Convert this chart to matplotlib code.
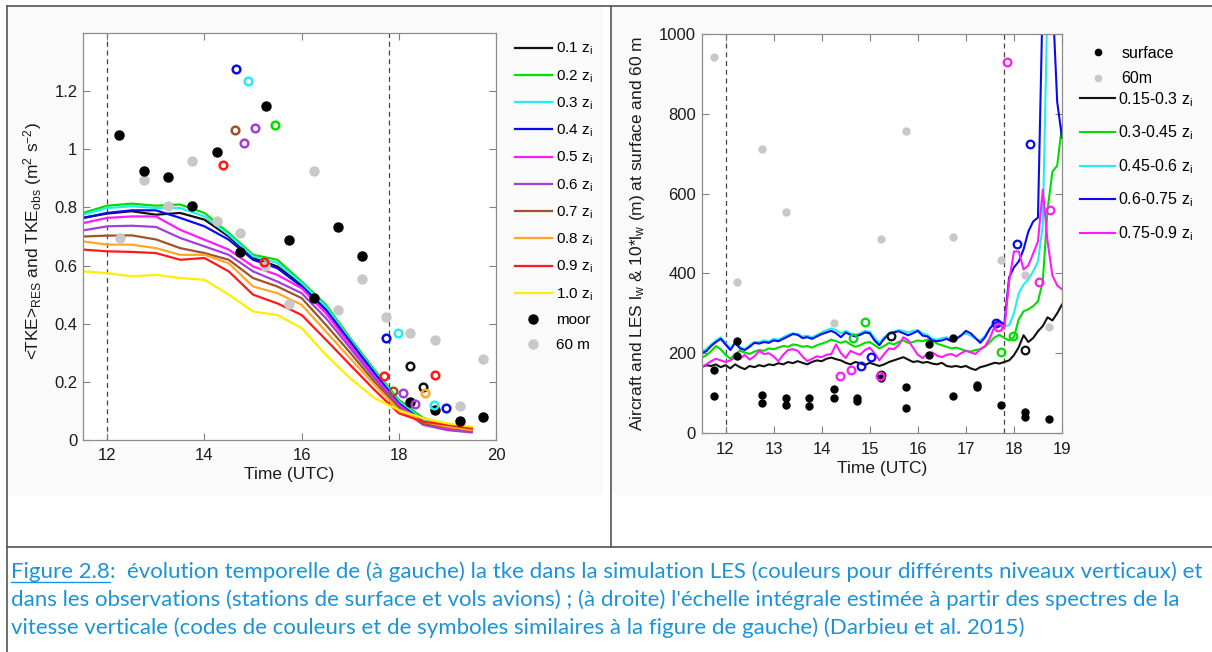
import numpy as np
import matplotlib.pyplot as plt
from matplotlib.lines import Line2D
from matplotlib.patches import Rectangle

plt.rcParams['font.family'] = ['Liberation Sans', 'DejaVu Sans']
plt.rcParams['mathtext.fontset'] = 'custom'
plt.rcParams['mathtext.rm'] = 'Liberation Sans'
plt.rcParams['mathtext.it'] = 'Liberation Sans:italic'

# ---------------- left panel : TKE ----------------
t_les = [11.5, 12.0, 12.5, 13.0, 13.5, 14.0, 14.5, 15.0, 15.5, 16.0,
         16.5, 17.0, 17.5, 18.0, 18.5, 19.0, 19.5]
tke_01 = [0.764, 0.779, 0.787, 0.775, 0.781, 0.758, 0.700, 0.626, 0.597, 0.534, 0.448, 0.333, 0.230, 0.132, 0.075, 0.052, 0.040]
tke_02 = [0.781, 0.806, 0.813, 0.806, 0.810, 0.781, 0.712, 0.637, 0.620, 0.545, 0.465, 0.350, 0.241, 0.138, 0.075, 0.052, 0.040]
tke_03 = [0.775, 0.798, 0.804, 0.798, 0.798, 0.769, 0.706, 0.632, 0.609, 0.540, 0.459, 0.345, 0.235, 0.132, 0.069, 0.046, 0.034]
tke_04 = [0.764, 0.781, 0.790, 0.790, 0.764, 0.735, 0.689, 0.620, 0.591, 0.528, 0.448, 0.339, 0.230, 0.126, 0.063, 0.040, 0.032]
tke_05 = [0.746, 0.764, 0.769, 0.769, 0.723, 0.689, 0.655, 0.597, 0.568, 0.522, 0.436, 0.327, 0.218, 0.121, 0.057, 0.040, 0.029]
tke_06 = [0.721, 0.735, 0.737, 0.733, 0.695, 0.666, 0.637, 0.580, 0.545, 0.505, 0.419, 0.316, 0.212, 0.115, 0.052, 0.034, 0.026]
tke_07 = [0.700, 0.703, 0.704, 0.690, 0.660, 0.643, 0.620, 0.557, 0.528, 0.488, 0.396, 0.300, 0.200, 0.109, 0.057, 0.044, 0.032]
tke_08 = [0.683, 0.672, 0.672, 0.660, 0.637, 0.637, 0.608, 0.528, 0.505, 0.465, 0.373, 0.281, 0.190, 0.103, 0.063, 0.046, 0.034]
tke_09 = [0.655, 0.649, 0.647, 0.643, 0.620, 0.626, 0.580, 0.500, 0.470, 0.430, 0.345, 0.258, 0.172, 0.092, 0.063, 0.052, 0.040]
tke_10 = [0.580, 0.574, 0.563, 0.568, 0.557, 0.551, 0.500, 0.442, 0.430, 0.385, 0.293, 0.212, 0.144, 0.103, 0.075, 0.057, 0.046]
tke_all = [tke_01, tke_02, tke_03, tke_04, tke_05, tke_06, tke_07, tke_08, tke_09, tke_10]
lvl_names = ['0.1', '0.2', '0.3', '0.4', '0.5', '0.6', '0.7', '0.8', '0.9', '1.0']
lvl_colors = ['#111111', '#00dd00', '#22eeee', '#0a0aee', '#ff1aff',
              '#a040d8', '#a0522d', '#ffa726', '#ff1a1a', '#ffee00']

moor_t = [12.24, 12.75, 13.25, 13.75, 14.25, 14.74, 15.26, 15.75, 16.25, 16.74, 17.24, 18.22, 18.75, 19.25, 19.74]
moor_v = [1.048, 0.924, 0.905, 0.804, 0.990, 0.645, 1.148, 0.689, 0.490, 0.731, 0.632, 0.130, 0.103, 0.067, 0.080]
m60_t = [12.26, 12.75, 13.25, 13.75, 14.25, 14.74, 15.24, 15.75, 16.25, 16.74, 17.24, 17.74, 18.24, 18.75, 19.25, 19.74]
m60_v = [0.695, 0.896, 0.804, 0.959, 0.752, 0.712, 0.597, 0.469, 0.924, 0.448, 0.553, 0.423, 0.367, 0.345, 0.117, 0.279]

# aircraft legs (index into lvl_colors)
air_lvl = [0, 0, 1, 2, 2, 2, 3, 3, 3, 5, 5, 5, 5, 6, 6, 7, 8, 8, 8, 8]
air_t = [18.22, 18.50, 15.46, 14.89, 17.98, 18.72, 14.65, 17.74, 18.97, 14.82, 15.03, 18.09, 18.34,
         14.63, 17.88, 18.53, 14.38, 15.22, 17.69, 18.75]
air_v = [0.256, 0.184, 1.085, 1.234, 0.367, 0.120, 1.277, 0.350, 0.109, 1.020, 1.073, 0.161, 0.123,
         1.065, 0.170, 0.163, 0.946, 0.612, 0.220, 0.224]

# ---------------- right panel : integral scale ----------------
t_lw = np.round(np.arange(11.5, 19.01, 0.1), 1)  # LES output every 6 min
lw_1 = [165, 170, 168, 172, 165, 170, 162, 172, 165, 160,
        168, 165, 170, 167, 172, 170, 175, 172, 178, 175,
        180, 176, 172, 178, 182, 180, 186, 189, 185, 182,
        176, 172, 178, 175, 170, 176, 172, 168, 172, 178,
        182, 186, 190, 184, 178, 180, 176, 178, 174, 172,
        176, 168, 166, 168, 165, 168, 162, 158, 165, 168,
        172, 176, 174, 178, 182, 195, 215, 245, 228, 238,
        255, 268, 290, 282, 300, 322]
lw_2 = [188, 195, 205, 218, 210, 196, 186, 198, 206, 202,
        198, 204, 208, 206, 212, 210, 214, 218, 216, 222,
        220, 216, 218, 214, 220, 224, 228, 234, 230, 226,
        230, 222, 216, 220, 226, 228, 220, 212, 218, 226,
        222, 228, 232, 226, 228, 232, 230, 234, 232, 224,
        220, 216, 212, 214, 210, 206, 204, 208, 210, 216,
        228, 240, 246, 238, 232, 240, 285, 305, 310, 318,
        330, 380, 560, 655, 670, 770]
lw_3 = [205, 210, 222, 232, 240, 226, 212, 228, 216, 210,
        220, 228, 228, 232, 230, 236, 234, 240, 246, 250,
        248, 242, 244, 240, 246, 252, 258, 262, 258, 250,
        256, 250, 246, 250, 256, 254, 238, 226, 240, 250,
        254, 258, 256, 252, 256, 258, 250, 246, 236, 234,
        238, 240, 234, 238, 246, 250, 244, 236, 232, 244,
        262, 274, 276, 268, 270, 300, 350, 372, 385, 405,
        430, 520, 1100, 1100, 1100, 1100]
lw_4 = [200, 205, 218, 228, 236, 222, 208, 226, 212, 208,
        216, 226, 224, 228, 226, 232, 230, 236, 242, 248,
        246, 238, 240, 236, 242, 248, 252, 256, 250, 240,
        252, 246, 242, 246, 252, 250, 232, 220, 236, 248,
        252, 255, 250, 245, 250, 256, 244, 242, 232, 230,
        232, 236, 230, 236, 244, 256, 250, 238, 226, 240,
        262, 276, 280, 272, 390, 415, 430, 460, 505, 530,
        540, 1100, 1100, 1100, 830, 740]
lw_5 = [165, 172, 180, 186, 182, 178, 182, 190, 186, 196,
        184, 192, 206, 198, 200, 192, 180, 196, 208, 210,
        206, 192, 180, 186, 192, 190, 196, 198, 222, 200,
        188, 206, 200, 196, 208, 214, 200, 182, 198, 212,
        210, 220, 240, 232, 214, 196, 188, 198, 202, 194,
        190, 196, 198, 192, 200, 206, 202, 198, 210, 218,
        238, 268, 272, 262, 380, 455, 455, 410, 420, 450,
        480, 610, 480, 395, 370, 360]
lw_all = [lw_1, lw_2, lw_3, lw_4, lw_5]
band_names = ['0.15-0.3', '0.3-0.45', '0.45-0.6', '0.6-0.75', '0.75-0.9']
band_colors = ['#111111', '#00dd00', '#22eeee', '#0a0aee', '#ff1aff']

sfc_t = [11.76, 11.76, 12.24, 12.24, 12.75, 12.75, 13.25, 13.25, 13.74, 13.74, 14.25, 14.25, 14.74, 14.74,
         15.24, 15.75, 15.75, 16.24, 16.24, 16.74, 16.74, 17.24, 17.24, 17.74, 18.23, 18.23, 18.73]
sfc_v = [159, 92, 230, 192, 94, 75, 88, 71, 88, 67, 110, 88, 88, 79,
         138, 115, 63, 223, 195, 238, 92, 121, 115, 69, 52, 39, 35]
g60_t = [11.76, 12.24, 12.75, 13.25, 14.25, 15.24, 15.75, 16.74, 17.74, 18.23, 18.73]
g60_v = [942, 378, 713, 553, 276, 486, 758, 491, 434, 397, 265]

air2_lvl = [0, 0, 0, 1, 1, 1, 1, 3, 3, 3, 3, 3, 4, 4, 4, 4, 4, 4, 4]
air2_t = [15.45, 18.22, 15.24, 14.65, 14.90, 17.74, 17.99, 14.82, 15.02, 17.62, 18.07, 18.33,
          14.38, 14.61, 15.21, 17.66, 17.86, 18.53, 18.75]
air2_v = [242, 209, 146, 238, 277, 202, 242, 169, 190, 275, 474, 725,
          144, 159, 144, 265, 931, 378, 558]

caption = [
    "évolution temporelle de (à gauche) la tke dans la simulation LES (couleurs pour différents niveaux verticaux) et",
    "dans les observations (stations de surface et vols avions) ; (à droite) l'échelle intégrale estimée à partir des spectres de la",
    "vitesse verticale (codes de couleurs et de symboles similaires à la figure de gauche) (Darbieu et al. 2015)",
]

W, H = 1212, 652
fig = plt.figure(figsize=(W / 100, H / 100), dpi=100)


def fx(px):
    return px / W


def fy(py):
    return 1 - py / H


# screenshot backgrounds and table frame
for x0, x1 in [(8, 603), (612, 1212)]:
    fig.patches.append(Rectangle((fx(x0), fy(495)), fx(x1 - x0), (495 - 7) / H,
                                 transform=fig.transFigure, facecolor='#fafafa',
                                 edgecolor='none', zorder=-5))
frame = dict(transform=fig.transFigure, color='#555555', lw=1.2)
fig.add_artist(Line2D([fx(7), 1], [fy(6), fy(6)], **frame))
fig.add_artist(Line2D([fx(7), fx(7)], [fy(6), 0], **frame))
fig.add_artist(Line2D([fx(611), fx(611)], [fy(6), fy(547)], **frame))
fig.add_artist(Line2D([fx(7), 1], [fy(547), fy(547)], **frame))


def style(ax, pad_x, pad_y):
    ax.set_facecolor('white')
    ax.tick_params(direction='in', top=True, right=True, length=5, width=0.8,
                   color='#808080', labelsize=12, labelcolor='#1a1a1a')
    ax.tick_params(axis='x', pad=pad_x)
    ax.tick_params(axis='y', pad=pad_y)
    for s in ax.spines.values():
        s.set_color('#8c8c8c')
        s.set_linewidth(0.9)


# ---- left axes
ax1 = fig.add_axes([fx(83), fy(440), 413 / W, 407 / H])
style(ax1, 6, 4)
handles = []
for vals, col, nm in zip(tke_all, lvl_colors, lvl_names):
    h, = ax1.plot(t_les, vals, color=col, lw=1.6, label=nm + r' z$_\mathregular{i}$', zorder=2)
    handles.append(h)
for xv in (12, 17.8):
    ax1.axvline(xv, color='#444444', lw=0.9, ls=(0, (4, 3)), zorder=1)
h_m60, = ax1.plot(m60_t, m60_v, 'o', color='#c8c8c8', ms=6.5, ls='none', zorder=3, label='60 m')
h_moor, = ax1.plot(moor_t, moor_v, 'o', color='black', ms=6.5, ls='none', zorder=4, label='moor')
for lv, tt, vv in zip(air_lvl, air_t, air_v):
    ax1.plot(tt, vv, 'o', mfc='none', mec=lvl_colors[lv], mew=1.8, ms=5.5, zorder=5)
ax1.set_xlim(11.5, 20)
ax1.set_ylim(0, 1.4)
ax1.set_xticks([12, 14, 16, 18, 20])
yt = [0, 0.2, 0.4, 0.6, 0.8, 1.0, 1.2]
ax1.set_yticks(yt)
ax1.set_yticklabels([f'{v:g}' for v in yt])
ax1.set_xlabel('Time (UTC)', fontsize=12.5, color='#1a1a1a', labelpad=3)
ax1.set_ylabel(r'<TKE>$_\mathregular{RES}$ and TKE$_\mathregular{obs}$ (m$^\mathregular{2}$ s$^\mathregular{-2}$)',
               fontsize=12.5, color='#1a1a1a')
ax1.yaxis.set_label_coords(-0.095, 0.49)
ax1.legend(handles + [h_moor, h_m60], [h.get_label() for h in handles] + ['moor', '60 m'],
           loc='upper left', bbox_to_anchor=(fx(515), fy(41)), bbox_transform=fig.transFigure,
           frameon=False, fontsize=11, handlelength=2.4, handletextpad=0.3,
           labelspacing=0.71, borderpad=0, borderaxespad=0)

# ---- right axes
ax2 = fig.add_axes([fx(701.5), fy(433), 360.5 / W, 399 / H])
style(ax2, 6.5, 4)
lhandles = []
for vals, col, nm in zip(lw_all, band_colors, band_names):
    h, = ax2.plot(t_lw, vals, color=col, lw=1.5, zorder=2, label=nm + r' z$_\mathregular{i}$')
    lhandles.append(h)
for xv in (12, 17.8):
    ax2.axvline(xv, color='#444444', lw=0.9, ls=(0, (4, 3)), zorder=1)
h_g, = ax2.plot(g60_t, g60_v, 'o', color='#c8c8c8', ms=5, ls='none', zorder=3, label='60m')
h_s, = ax2.plot(sfc_t, sfc_v, 'o', color='black', ms=5, ls='none', zorder=4, label='surface')
for lv, tt, vv in zip(air2_lvl, air2_t, air2_v):
    ax2.plot(tt, vv, 'o', mfc='none', mec=band_colors[lv], mew=1.6, ms=5.5, zorder=5)
ax2.set_xlim(11.5, 19)
ax2.set_ylim(0, 1000)
ax2.set_xticks(range(12, 20))
ax2.set_yticks(range(0, 1001, 200))
ax2.set_xlabel('Time (UTC)', fontsize=12.5, color='#1a1a1a', labelpad=3)
ax2.set_ylabel(r'Aircraft and LES l$_\mathregular{w}$ & 10*l$_\mathregular{w}$ (m) at surface and 60 m',
               fontsize=12.5, color='#1a1a1a')
ax2.yaxis.set_label_coords(-0.15, 0.5)
leg_a = ax2.legend([h_s, h_g], ['surface', '60m'], loc='upper left',
                   bbox_to_anchor=(fx(1080), fy(46)), bbox_transform=fig.transFigure,
                   frameon=False, fontsize=11.5, handlelength=2.3, handletextpad=0.3,
                   labelspacing=0.65, borderpad=0, borderaxespad=0, markerscale=0.9)
ax2.add_artist(leg_a)
ax2.legend(lhandles, [h.get_label() for h in lhandles], loc='upper left',
           bbox_to_anchor=(fx(1080), fy(90)), bbox_transform=fig.transFigure,
           frameon=False, fontsize=11.5, handlelength=2.2, handletextpad=0.2,
           labelspacing=0.93, borderpad=0, borderaxespad=0)

# ---- caption
cap_col = '#1b93d6'
cap_font = ['Lato', 'DejaVu Sans']
renderer = fig.canvas.get_renderer()
probe = fig.text(0, 0, 'Figure 2.8:  ' + caption[0], fontsize=16, family=cap_font)
cap_size = 16 * 1194 / probe.get_window_extent(renderer).width
probe.remove()

t1 = fig.text(fx(11), fy(578), 'Figure 2.8', fontsize=cap_size, family=cap_font,
              color=cap_col, va='baseline')
w1 = t1.get_window_extent(renderer).width
fig.text(fx(11 + w1), fy(578), ':  ' + caption[0], fontsize=cap_size, family=cap_font,
         color=cap_col, va='baseline')
fig.add_artist(Line2D([fx(11), fx(11 + w1)], [fy(582), fy(582)], transform=fig.transFigure,
                      color=cap_col, lw=1))
for i, line in enumerate(caption[1:]):
    fig.text(fx(11), fy(606 + 28 * i), line, fontsize=cap_size, family=cap_font,
             color=cap_col, va='baseline')

fig.savefig('out.png', dpi=100)
